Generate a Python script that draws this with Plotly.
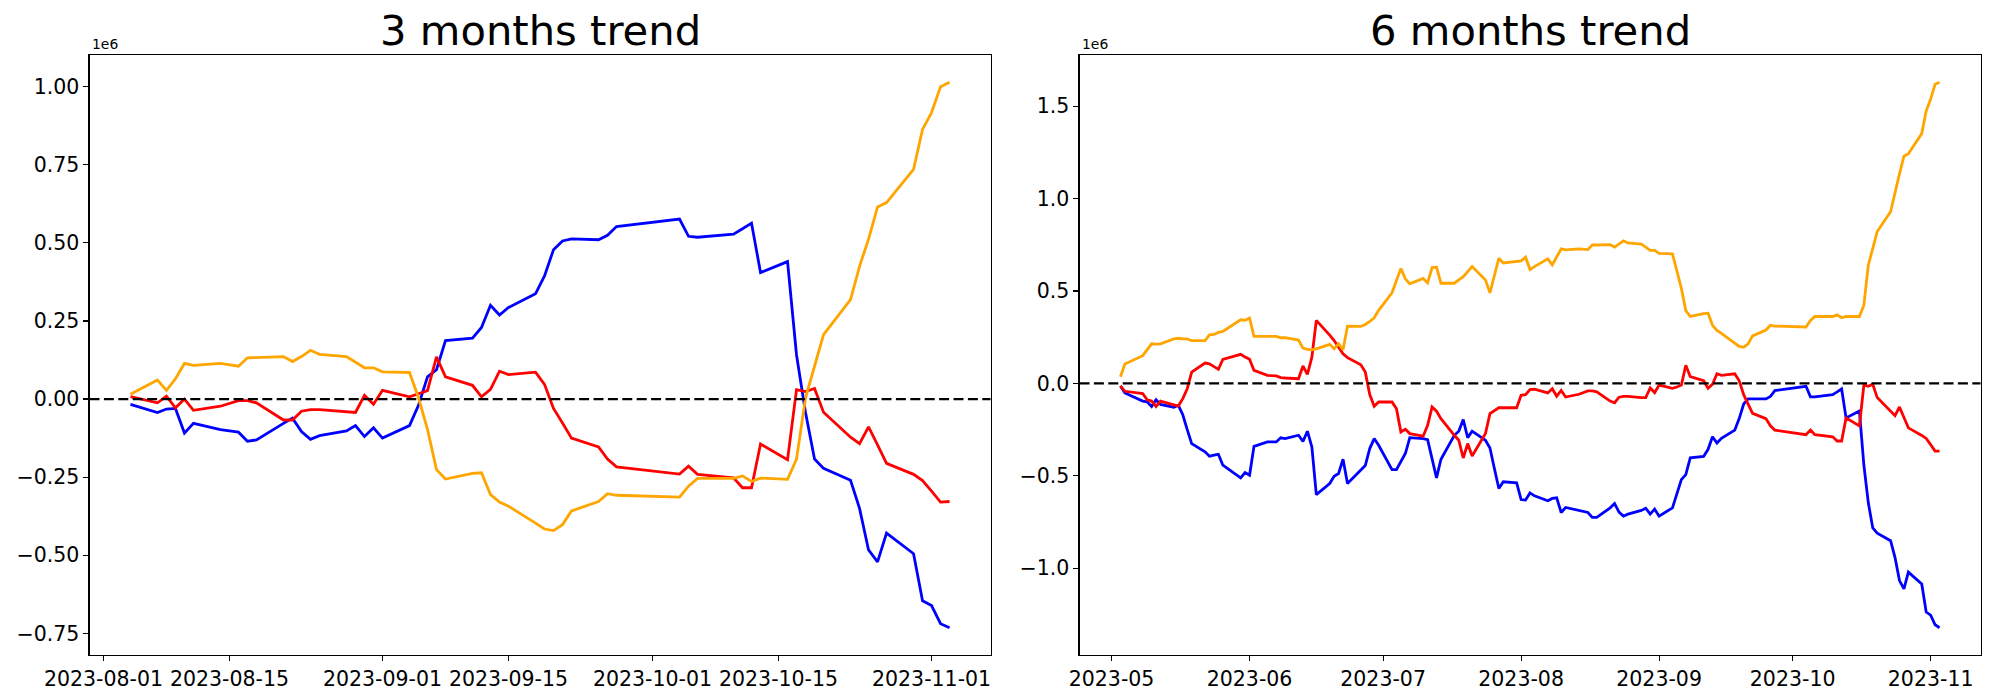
import pandas as pd
import plotly.graph_objects as go

# ---------------- data (values in units of 1e6) ----------------
L_DATES = ["2023-08-04","2023-08-07","2023-08-08","2023-08-09","2023-08-10","2023-08-11","2023-08-14",
           "2023-08-16","2023-08-17","2023-08-18","2023-08-21","2023-08-22","2023-08-23","2023-08-24",
           "2023-08-25","2023-08-28","2023-08-29","2023-08-30","2023-08-31",
           "2023-09-01","2023-09-04","2023-09-05","2023-09-06","2023-09-07","2023-09-08","2023-09-11",
           "2023-09-12","2023-09-13","2023-09-14","2023-09-15","2023-09-18","2023-09-19","2023-09-20",
           "2023-09-21","2023-09-22","2023-09-25","2023-09-26","2023-09-27",
           "2023-10-04","2023-10-05","2023-10-06","2023-10-10","2023-10-11","2023-10-12","2023-10-13",
           "2023-10-16","2023-10-17","2023-10-18","2023-10-19","2023-10-20","2023-10-23","2023-10-24",
           "2023-10-25","2023-10-26","2023-10-27","2023-10-30","2023-10-31",
           "2023-11-01","2023-11-02","2023-11-03"]
L_ORANGE = [0.015, 0.061, 0.028, 0.065, 0.114, 0.108, 0.114, 0.105, 0.132, 0.133, 0.136, 0.120, 0.136, 0.156,
            0.143, 0.136, 0.118, 0.100, 0.100,
            0.087, 0.085, 0.004, -0.097, -0.226, -0.256, -0.238, -0.236, -0.306, -0.330, -0.343, -0.397,
            -0.416, -0.421, -0.402, -0.358, -0.328, -0.303, -0.308,
            -0.314, -0.279, -0.254, -0.254, -0.246, -0.264, -0.253, -0.257, -0.192, 0.004, 0.105, 0.206,
            0.318, 0.425, 0.512, 0.615, 0.629, 0.735, 0.863,
            0.917, 1.000, 1.014]
L_RED = [0.008, -0.012, 0.009, -0.028, 0.000, -0.036, -0.023, -0.005, -0.005, -0.012, -0.067, -0.067, -0.039,
         -0.034, -0.034, -0.042, -0.043, 0.012, -0.017,
         0.028, 0.007, 0.017, 0.027, 0.135, 0.071, 0.044, 0.007, 0.031, 0.089, 0.078, 0.086, 0.047, -0.030,
         -0.077, -0.125, -0.153, -0.192, -0.217,
         -0.240, -0.215, -0.241, -0.252, -0.284, -0.284, -0.144, -0.194, 0.030, 0.024, 0.034, -0.042, -0.122,
         -0.143, -0.089, -0.147, -0.206, -0.241, -0.261,
         -0.295, -0.330, -0.328]
L_BLUE = [-0.017, -0.043, -0.032, -0.030, -0.109, -0.078, -0.098, -0.106, -0.135, -0.131, -0.078, -0.061, -0.104,
          -0.129, -0.117, -0.102, -0.085, -0.120, -0.092,
          -0.125, -0.085, -0.020, 0.071, 0.094, 0.187, 0.195, 0.229, 0.300, 0.269, 0.293, 0.337, 0.394, 0.478,
          0.506, 0.513, 0.510, 0.524, 0.552,
          0.576, 0.521, 0.518, 0.528, 0.545, 0.563, 0.405, 0.440, 0.141, -0.043, -0.192, -0.222, -0.260,
          -0.350, -0.483, -0.521, -0.429, -0.495, -0.646,
          -0.661, -0.719, -0.732]

R_DATES = ["2023-05-03","2023-05-04","2023-05-08","2023-05-09","2023-05-10","2023-05-11","2023-05-12",
           "2023-05-15","2023-05-16","2023-05-17","2023-05-18","2023-05-19","2023-05-22","2023-05-23",
           "2023-05-24","2023-05-25","2023-05-26","2023-05-30","2023-05-31",
           "2023-06-01","2023-06-02","2023-06-05","2023-06-07","2023-06-08","2023-06-09","2023-06-12",
           "2023-06-13","2023-06-14","2023-06-15","2023-06-16","2023-06-19","2023-06-20","2023-06-21",
           "2023-06-22","2023-06-23","2023-06-26","2023-06-27","2023-06-28","2023-06-29","2023-06-30",
           "2023-07-03","2023-07-04","2023-07-05","2023-07-06","2023-07-07","2023-07-10","2023-07-11",
           "2023-07-12","2023-07-13","2023-07-14","2023-07-17","2023-07-18","2023-07-19","2023-07-20",
           "2023-07-21","2023-07-24","2023-07-25","2023-07-26","2023-07-27","2023-07-28","2023-07-31",
           "2023-08-01","2023-08-02","2023-08-03","2023-08-04","2023-08-07","2023-08-08","2023-08-09",
           "2023-08-10","2023-08-11","2023-08-14","2023-08-16","2023-08-17","2023-08-18","2023-08-21",
           "2023-08-22","2023-08-23","2023-08-24","2023-08-25","2023-08-28","2023-08-29","2023-08-30",
           "2023-08-31",
           "2023-09-01","2023-09-04","2023-09-05","2023-09-06","2023-09-07","2023-09-08","2023-09-11",
           "2023-09-12","2023-09-13","2023-09-14","2023-09-15","2023-09-18","2023-09-19","2023-09-20",
           "2023-09-21","2023-09-22","2023-09-25","2023-09-26","2023-09-27",
           "2023-10-04","2023-10-05","2023-10-06","2023-10-10","2023-10-11","2023-10-12","2023-10-13",
           "2023-10-16","2023-10-17","2023-10-18","2023-10-19","2023-10-20","2023-10-23","2023-10-24",
           "2023-10-25","2023-10-26","2023-10-27","2023-10-30","2023-10-31",
           "2023-11-01","2023-11-02","2023-11-03"]
R_ORANGE = [0.036, 0.105, 0.150, 0.182, 0.214, 0.212, 0.214, 0.241, 0.244, 0.241, 0.241, 0.231, 0.232, 0.263,
            0.265, 0.276, 0.281, 0.344, 0.341,
            0.353, 0.254, 0.254, 0.254, 0.247, 0.247, 0.234, 0.191, 0.184, 0.182, 0.187, 0.211, 0.187, 0.214,
            0.182, 0.310, 0.308, 0.319, 0.335, 0.355, 0.395,
            0.490, 0.557, 0.622, 0.566, 0.539, 0.568, 0.544, 0.627, 0.629, 0.542, 0.542, 0.560, 0.578, 0.605,
            0.632, 0.560, 0.490, 0.584, 0.677, 0.652, 0.661,
            0.663, 0.683, 0.616, 0.632, 0.674, 0.641, 0.683, 0.728, 0.723, 0.728, 0.724, 0.749, 0.749, 0.751,
            0.738, 0.754, 0.772, 0.760, 0.754, 0.738, 0.720, 0.720,
            0.704, 0.701, 0.606, 0.515, 0.394, 0.362, 0.378, 0.380, 0.314, 0.287, 0.271, 0.219, 0.200, 0.196,
            0.214, 0.257, 0.289, 0.314, 0.310,
            0.305, 0.340, 0.362, 0.362, 0.371, 0.355, 0.362, 0.362, 0.423, 0.640, 0.731, 0.822, 0.929, 1.038,
            1.134, 1.230, 1.243, 1.352, 1.475,
            1.539, 1.619, 1.630]
R_RED = [-0.014, -0.043, -0.055, -0.089, -0.096, -0.125, -0.096, -0.114, -0.123, -0.083, -0.029, 0.061, 0.110,
         0.106, 0.092, 0.076, 0.130, 0.157, 0.142,
         0.130, 0.070, 0.043, 0.040, 0.031, 0.029, 0.025, 0.094, 0.049, 0.142, 0.341, 0.261, 0.232, 0.196,
         0.160, 0.139, 0.101, 0.061, -0.061, -0.124, -0.101,
         -0.101, -0.137, -0.263, -0.249, -0.272, -0.286, -0.227, -0.128, -0.151, -0.191, -0.281, -0.308,
         -0.404, -0.326, -0.393, -0.272, -0.164, -0.146, -0.132, -0.132, -0.132,
         -0.065, -0.061, -0.034, -0.031, -0.052, -0.029, -0.070, -0.038, -0.074, -0.059, -0.041, -0.041,
         -0.046, -0.096, -0.105, -0.075, -0.071, -0.071, -0.077, -0.077, -0.025, -0.050,
         -0.009, -0.027, -0.020, -0.009, 0.098, 0.036, 0.014, -0.027, -0.005, 0.052, 0.043, 0.052, 0.014,
         -0.061, -0.112, -0.162, -0.191, -0.230, -0.253,
         -0.278, -0.253, -0.278, -0.289, -0.312, -0.312, -0.187, -0.230, -0.009, -0.016, -0.005, -0.077,
         -0.153, -0.175, -0.128, -0.184, -0.241, -0.282, -0.298,
         -0.332, -0.367, -0.367]
R_BLUE = [-0.014, -0.052, -0.096, -0.100, -0.125, -0.089, -0.114, -0.130, -0.119, -0.170, -0.250, -0.326, -0.371,
          -0.395, -0.389, -0.384, -0.443, -0.512, -0.483,
          -0.497, -0.341, -0.317, -0.317, -0.295, -0.299, -0.281, -0.314, -0.259, -0.344, -0.602, -0.542,
          -0.503, -0.488, -0.411, -0.542, -0.470, -0.445, -0.353, -0.299, -0.335,
          -0.467, -0.467, -0.425, -0.380, -0.294, -0.299, -0.305, -0.407, -0.512, -0.411, -0.281, -0.259,
          -0.196, -0.294, -0.259, -0.308, -0.350, -0.461, -0.569, -0.533, -0.539,
          -0.629, -0.632, -0.593, -0.609, -0.636, -0.623, -0.620, -0.699, -0.672, -0.686, -0.699, -0.726,
          -0.726, -0.674, -0.651, -0.697, -0.719, -0.708, -0.688, -0.676, -0.708, -0.681,
          -0.719, -0.674, -0.601, -0.521, -0.494, -0.403, -0.396, -0.357, -0.289, -0.323, -0.298, -0.253,
          -0.191, -0.112, -0.084, -0.084, -0.084, -0.071, -0.039,
          -0.016, -0.073, -0.073, -0.061, -0.046, -0.030, -0.187, -0.150, -0.442, -0.647, -0.783, -0.811,
          -0.852, -0.943, -1.068, -1.113, -1.022, -1.086, -1.238,
          -1.255, -1.307, -1.323]

L_XTICKS = ["2023-08-01", "2023-08-15", "2023-09-01", "2023-09-15", "2023-10-01", "2023-10-15", "2023-11-01"]
L_XTICK_TEXT = ["2023-08-01", "2023-08-15", "2023-09-01", "2023-09-15", "2023-10-01", "2023-10-15", "2023-11-01"]
R_XTICKS = ["2023-05-01", "2023-06-01", "2023-07-01", "2023-08-01", "2023-09-01", "2023-10-01", "2023-11-01"]
R_XTICK_TEXT = ["2023-05", "2023-06", "2023-07", "2023-08", "2023-09", "2023-10", "2023-11"]
L_YTICKS = [-0.75, -0.50, -0.25, 0.00, 0.25, 0.50, 0.75, 1.00]
R_YTICKS = [-1.0, -0.5, 0.0, 0.5, 1.0, 1.5]
TITLES = ["3 months trend", "6 months trend"]
SCALE_LABEL = "1e6"
COLORS = {"orange": "#FFA500", "red": "#FF0000", "blue": "#0000FF"}

# ---------------- figure ----------------
W, H = 2000, 700
FONT = "DejaVu Sans"
AX_TOP, AX_BOT = 55, 655
LEFT_DOM = [89.5 / W, 990.5 / W]
RIGHT_DOM = [1079.5 / W, 1980.5 / W]
YDOM = [1 - AX_BOT / H, 1 - AX_TOP / H]


def pad_range(vals, frac=0.05):
    lo, hi = min(vals), max(vals)
    span = hi - lo
    return [lo - frac * span, hi + frac * span]


def date_range(dates, frac=0.05):
    d = pd.to_datetime(pd.Series(dates))
    span = d.max() - d.min()
    return [(d.min() - frac * span).strftime("%Y-%m-%d %H:%M"), (d.max() + frac * span).strftime("%Y-%m-%d %H:%M")]


fig = go.Figure()
panels = [
    (L_DATES, L_ORANGE, L_RED, L_BLUE, "x", "y"),
    (R_DATES, R_ORANGE, R_RED, R_BLUE, "x2", "y2"),
]
for dates, o, r, b, xa, ya in panels:
    for vals, col in ((b, "blue"), (r, "red"), (o, "orange")):
        fig.add_trace(go.Scatter(x=dates, y=vals, mode="lines", xaxis=xa, yaxis=ya,
                                 line=dict(color=COLORS[col], width=2.8), showlegend=False,
                                 hoverinfo="skip"))

axis_common = dict(showline=True, mirror=True, linecolor="black", linewidth=1.1, showgrid=False,
                   zeroline=False, ticks="outside", ticklen=5, tickwidth=1.1, tickcolor="black",
                   tickfont=dict(family=FONT, size=20.5, color="black"), automargin=False)

fig.update_layout(
    width=W, height=H, margin=dict(l=0, r=0, t=0, b=0),
    paper_bgcolor="white", plot_bgcolor="white", showlegend=False,
    xaxis=dict(domain=LEFT_DOM, anchor="y", type="date", range=date_range(L_DATES),
               tickvals=L_XTICKS, ticktext=L_XTICK_TEXT, **axis_common),
    yaxis=dict(domain=YDOM, anchor="x", range=pad_range(L_ORANGE + L_RED + L_BLUE),
               tickvals=L_YTICKS, tickformat=".2f", **axis_common),
    xaxis2=dict(domain=RIGHT_DOM, anchor="y2", type="date", range=date_range(R_DATES),
                tickvals=R_XTICKS, ticktext=R_XTICK_TEXT, **axis_common),
    yaxis2=dict(domain=YDOM, anchor="x2", range=pad_range(R_ORANGE + R_RED + R_BLUE),
                tickvals=R_YTICKS, tickformat=".1f", **axis_common),
)

for xa, ya in (("x", "y"), ("x2", "y2")):
    fig.add_shape(type="line", xref=f"{xa} domain", yref=ya, x0=0, x1=1, y0=0, y1=0,
                  line=dict(color="black", width=2.2, dash="10px,4.4px"), layer="above")

for i, (xa, ya) in enumerate((("x", "y"), ("x2", "y2"))):
    fig.add_annotation(text=SCALE_LABEL, xref=f"{xa} domain", yref=f"{ya} domain", x=0, y=1,
                       xanchor="left", yanchor="bottom", yshift=1, showarrow=False,
                       font=dict(family=FONT, size=13.9, color="black"))
    fig.add_annotation(text=TITLES[i], xref=f"{xa} domain", yref="paper", x=0.5, y=1 - 31 / H,
                       xanchor="center", yanchor="middle", showarrow=False,
                       font=dict(family=FONT, size=41.7, color="black"))

# remove the browser's default page margin so the figure sits at the window's top-left corner
fig.write_html("out.html", config={"displayModeBar": False, "staticPlot": True},
               post_script="document.body.style.margin='0px';")
